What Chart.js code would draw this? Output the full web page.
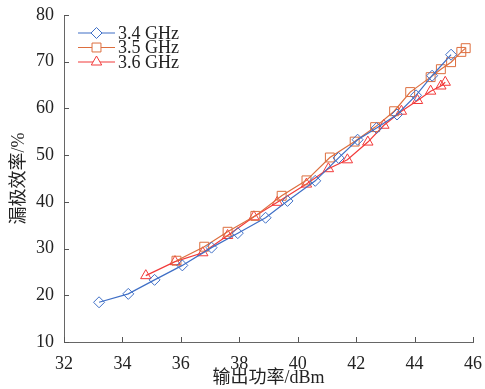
<!DOCTYPE html>
<html>
<head>
<meta charset="utf-8">
<script src="https://cdn.jsdelivr.net/npm/chart.js@4.4.0/dist/chart.umd.min.js"></script>
<style>
  html, body { margin: 0; padding: 0; background: #fff; }
  #wrap { position: relative; width: 485px; height: 389px; }
</style>
</head>
<body>
<div id="wrap"><canvas id="eff-chart"></canvas></div>
<script>
// series (x = output power dBm, y = drain efficiency %)
const x34 = [33.2, 34.2, 35.1, 36.05, 37.05, 37.95, 38.9, 39.65, 40.6, 41.4, 42.05, 42.7, 43.4, 44.05, 44.6, 45.25];
const y34 = [18.5, 20.3, 23.3, 26.4, 30.2, 33.3, 36.6, 40.2, 44.5, 49.4, 53.3, 55.8, 58.7, 62.8, 67.0, 71.5];

const x35 = [35.85, 36.8, 37.6, 38.55, 39.45, 40.3, 41.1, 41.95, 42.65, 43.3, 43.85, 44.55, 44.9, 45.25, 45.6, 45.75];
const y35 = [27.4, 30.4, 33.6, 37.0, 41.3, 44.6, 49.5, 52.9, 56.0, 59.4, 63.5, 66.7, 68.4, 69.9, 72.1, 72.9];

const x36 = [34.8, 35.8, 36.75, 37.6, 38.5, 39.3, 40.3, 41.05, 41.7, 42.4, 42.95, 43.55, 44.1, 44.55, 44.9, 45.05];
const y36 = [24.2, 27.2, 29.1, 32.8, 36.8, 39.9, 43.8, 47.1, 49.0, 52.8, 56.4, 59.4, 61.7, 63.7, 64.8, 65.6];

const seriesLabels = ['3.4 GHz', '3.5 GHz', '3.6 GHz'];
const xTicks = [32, 34, 36, 38, 40, 42, 44, 46];
const yTicks = [10, 20, 30, 40, 50, 60, 70, 80];

const colors = ['#3f6fc6', '#dd6e3e', '#f23a3a'];
const markers = ['rectRot', 'rect', 'triangle'];
const radii = [5.5, 6.3, 6];

function toPoints(xs, ys) {
    return xs.map((x, i) => ({ x: x, y: ys[i] }));
}

const serif = "'Liberation Serif', 'DejaVu Serif', serif";
const cjk = "'Liberation Serif', 'Noto Sans CJK SC', serif";

const datasets = [toPoints(x34, y34), toPoints(x35, y35), toPoints(x36, y36)].map((pts, i) => ({
    label: seriesLabels[i],
    data: pts,
    showLine: true,
    borderColor: colors[i],
    borderWidth: 1.2,
    backgroundColor: 'rgba(0,0,0,0)',
    pointStyle: markers[i],
    pointRadius: radii[i],
    pointBorderColor: colors[i],
    pointBorderWidth: 1,
    pointBackgroundColor: 'rgba(0,0,0,0)',
    tension: 0,
}));

// inward tick marks on left and bottom axes
const innerTicks = {
    id: 'innerTicks',
    afterDraw(chart) {
        const { ctx, chartArea, scales } = chart;
        ctx.save();
        ctx.strokeStyle = '#555';
        ctx.lineWidth = 1;
        ctx.beginPath();
        xTicks.forEach((v) => {
            const px = Math.round(scales.x.getPixelForValue(v)) + 0.5;
            ctx.moveTo(px, chartArea.bottom);
            ctx.lineTo(px, chartArea.bottom - 5);
        });
        yTicks.forEach((v) => {
            const py = Math.round(scales.y.getPixelForValue(v)) + 0.5;
            ctx.moveTo(chartArea.left, py);
            ctx.lineTo(chartArea.left + 5, py);
        });
        ctx.stroke();
        ctx.restore();
    }
};

// legend: short line with hollow marker, text to the right
const lineLegend = {
    id: 'lineLegend',
    afterDraw(chart) {
        const { ctx, chartArea } = chart;
        ctx.save();
        ctx.font = '18px ' + serif;
        ctx.textBaseline = 'middle';
        chart.data.datasets.forEach((ds, i) => {
            const y = chartArea.top + 18 + i * 14.5;
            const x0 = chartArea.left + 14;
            const x1 = chartArea.left + 51;
            ctx.strokeStyle = ds.borderColor;
            ctx.lineWidth = 1.2;
            ctx.beginPath();
            ctx.moveTo(x0, y);
            ctx.lineTo(x1, y);
            ctx.stroke();
            ctx.lineWidth = 1;
            ctx.fillStyle = '#fff';
            Chart.helpers.drawPoint(ctx, {
                pointStyle: ds.pointStyle,
                radius: ds.pointRadius,
                borderWidth: 1,
                rotation: 0,
            }, (x0 + x1) / 2, y);
            ctx.fillStyle = '#222';
            ctx.fillText(ds.label, x1 + 3, y + 1);
        });
        ctx.restore();
    }
};

new Chart(document.getElementById('eff-chart'), {
    type: 'scatter',
    data: { datasets: datasets },
    options: {
        responsive: true,
        maintainAspectRatio: false,
        animation: false,
        layout: { padding: { top: 15, right: 10, left: 0, bottom: 0 } },
        plugins: {
            legend: { display: false },
            tooltip: { enabled: false },
        },
        scales: {
            x: {
                type: 'linear',
                min: 32,
                max: 46,
                afterBuildTicks: (axis) => { axis.ticks = xTicks.map((v) => ({ value: v })); },
                afterFit: (axis) => { axis.height = 47; },
                grid: { display: false },
                border: { display: true, color: '#666', width: 1 },
                ticks: { color: '#222', padding: 3, font: { family: serif, size: 18 } },
                title: {
                    display: true,
                    text: '输出功率/dBm',
                    color: '#222',
                    padding: { top: 0, bottom: 0 },
                    font: { family: cjk, size: 18 },
                },
            },
            y: {
                type: 'linear',
                min: 10,
                max: 80,
                afterBuildTicks: (axis) => { axis.ticks = yTicks.map((v) => ({ value: v })); },
                afterFit: (axis) => { axis.width = 64; },
                grid: { display: false },
                border: { display: true, color: '#666', width: 1 },
                ticks: { color: '#222', padding: 2, font: { family: serif, size: 18 } },
                title: {
                    display: true,
                    text: '漏极效率/%',
                    color: '#222',
                    padding: { top: 8, bottom: 0 },
                    font: { family: cjk, size: 18 },
                },
            },
        },
    },
    plugins: [innerTicks, lineLegend],
});
</script>
</body>
</html>
